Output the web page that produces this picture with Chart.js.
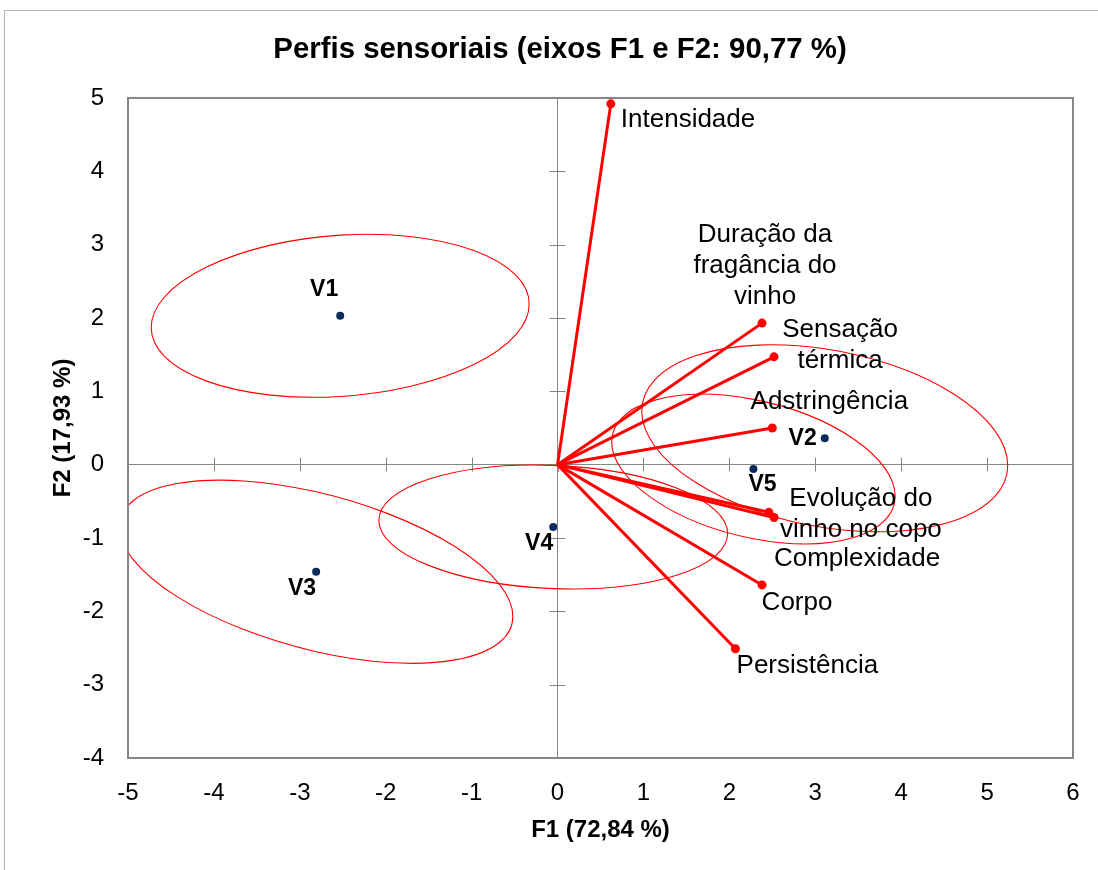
<!DOCTYPE html>
<html>
<head>
<meta charset="utf-8">
<script src="https://cdn.jsdelivr.net/npm/chart.js@4.4.1/dist/chart.umd.min.js"></script>
<style>
  html, body { margin: 0; padding: 0; background: #fff; overflow: hidden; }
  #wrap { position: relative; width: 1120px; height: 870px; }
</style>
</head>
<body>
<div id="wrap"><canvas id="chart"></canvas></div>
<script>
const FONT = "'Liberation Sans', Arial, sans-serif";

// produtos (observações)
const productNames = ["V1", "V2", "V3", "V4", "V5"];
const productF1 = [-2.53, 3.11, -2.81, -0.05, 2.28];
const productF2 = [2.03, 0.36, -1.46, -0.85, -0.06];

// variáveis sensoriais
const variableNames = [
  ["Intensidade"],
  ["Duração da", "fragância do", "vinho"],
  ["Sensação", "térmica"],
  ["Adstringência"],
  ["Evolução do", "vinho no copo"],
  ["Complexidade"],
  ["Corpo"],
  ["Persistência"]
];
const variableF1 = [0.62, 2.38, 2.52, 2.50, 2.46, 2.52, 2.38, 2.07];
const variableF2 = [4.92, 1.93, 1.47, 0.50, -0.65, -0.72, -1.64, -2.51];

// elipses de confiança em torno de cada produto
// (semi-eixo até o ponto mais à direita: dx, dy ; meia altura vertical no centro: h)
const ellipseDx = [2.20, 2.13, 2.29, 2.03, 1.65];
const ellipseDy = [0.16, -0.37, -0.61, -0.09, -0.37];
const ellipseH = [1.10, 1.22, 1.09, 0.84, 0.95];

const xTickValues = [-5, -4, -3, -2, -1, 0, 1, 2, 3, 4, 5, 6];
const yTickValues = [-4, -3, -2, -1, 0, 1, 2, 3, 4, 5];

// posição dos rótulos (deslocamento em px a partir do ponto)
const variableLabelPos = [
  {dx: 10, dy: 16, align: "left"},
  {dx: 3, dy: -88, align: "center"},
  {dx: 66, dy: -27, align: "center"},
  {dx: 57, dy: -26, align: "center"},
  {dx: 92, dy: -13, align: "center"},
  {dx: 83, dy: 41, align: "center"},
  {dx: 35, dy: 18, align: "center"},
  {dx: 72, dy: 17, align: "center"}
];
const productLabelPos = [
  {dx: -2, dy: -26, align: "right"},
  {dx: -8, dy: 0, align: "right"},
  {dx: 0, dy: 17, align: "right"},
  {dx: 0, dy: 17, align: "right"},
  {dx: -5, dy: 16, align: "left"}
];

const extras = {
  id: "extras",
  beforeDraw(chart) {
    const ctx = chart.ctx;
    ctx.save();
    ctx.fillStyle = "#fff";
    ctx.fillRect(0, 0, chart.width, chart.height);
    ctx.strokeStyle = "#b4b4b4";
    ctx.lineWidth = 1;
    ctx.strokeRect(4.5, 10.5, chart.width + 20, chart.height + 20);
    ctx.restore();
  },
  beforeDatasetsDraw(chart) {
    const {ctx, chartArea: a, scales: {x, y}} = chart;
    const x0 = x.getPixelForValue(0), y0 = y.getPixelForValue(0);

    // marcas nos eixos que passam pela origem
    ctx.save();
    ctx.strokeStyle = "#868686";
    ctx.lineWidth = 1;
    ctx.beginPath();
    xTickValues.slice(1, -1).forEach(v => {
      const px = Math.round(x.getPixelForValue(v)) + 0.5;
      ctx.moveTo(px, y0 - 7);
      ctx.lineTo(px, y0 + 7);
    });
    yTickValues.slice(1, -1).forEach(v => {
      const py = Math.round(y.getPixelForValue(v)) + 0.5;
      ctx.moveTo(x0 - 8, py);
      ctx.lineTo(x0 + 8, py);
    });
    ctx.stroke();
    ctx.restore();

    // elipses
    ctx.save();
    ctx.beginPath();
    ctx.rect(a.left, a.top, a.right - a.left, a.bottom - a.top);
    ctx.clip();
    ctx.strokeStyle = "#ff0000";
    ctx.lineWidth = 1.1;
    productF1.forEach((cx, i) => {
      const cy = productF2[i];
      const px = x.getPixelForValue(cx), py = y.getPixelForValue(cy);
      const ux = x.getPixelForValue(cx + ellipseDx[i]) - px;
      const uy = y.getPixelForValue(cy + ellipseDy[i]) - py;
      const vy = y.getPixelForValue(cy + ellipseH[i]) - py;
      ctx.save();
      ctx.transform(ux, uy, 0, vy, px, py);
      ctx.beginPath();
      ctx.arc(0, 0, 1, 0, Math.PI * 2);
      ctx.restore();
      ctx.stroke();
    });
    ctx.restore();
  },
  afterDatasetsDraw(chart) {
    const {ctx, chartArea: a, scales: {x, y}} = chart;

    // moldura
    ctx.save();
    ctx.strokeStyle = "#868686";
    ctx.lineWidth = 2;
    ctx.strokeRect(a.left, a.top, a.right - a.left, a.bottom - a.top);

    // rótulos das variáveis
    ctx.fillStyle = "#000";
    ctx.textBaseline = "middle";
    ctx.font = "26px " + FONT;
    variableNames.forEach((lines, i) => {
      const px = x.getPixelForValue(variableF1[i]);
      const py = y.getPixelForValue(variableF2[i]);
      const p = variableLabelPos[i];
      ctx.textAlign = p.align;
      lines.forEach((t, k) => ctx.fillText(t, px + p.dx, py + p.dy + k * 31));
    });

    // rótulos dos produtos
    ctx.font = "bold 23px " + FONT;
    productNames.forEach((t, i) => {
      const px = x.getPixelForValue(productF1[i]);
      const py = y.getPixelForValue(productF2[i]);
      const p = productLabelPos[i];
      ctx.textAlign = p.align;
      ctx.fillText(t, px + p.dx, py + p.dy);
    });
    ctx.restore();
  }
};

const datasets = [{
  label: "Produtos",
  data: productF1.map((v, i) => ({x: v, y: productF2[i]})),
  showLine: false,
  pointRadius: 4,
  pointBackgroundColor: "#0d2a5e",
  pointBorderWidth: 0
}].concat(variableF1.map((v, i) => ({
  label: variableNames[i].join(" "),
  data: [{x: 0, y: 0}, {x: v, y: variableF2[i]}],
  showLine: true,
  borderColor: "#ff0000",
  borderWidth: 3,
  pointRadius: [0, 4.5],
  pointBackgroundColor: "#ff0000",
  pointBorderWidth: 0
})));

const tickFont = {family: FONT, size: 24};
const zeroGrid = c => (c.tick && c.tick.value === 0) ? "#868686" : "rgba(0,0,0,0)";

const chart = new Chart(document.getElementById("chart"), {
  type: "scatter",
  data: { datasets },
  options: {
    responsive: true,
    maintainAspectRatio: false,
    animation: false,
    layout: { padding: { top: 10, left: 47, right: 47, bottom: 22 } },
    plugins: {
      legend: { display: false },
      tooltip: { enabled: false },
      title: {
        display: true,
        text: "Perfis sensoriais (eixos F1 e F2: 90,77 %)",
        color: "#000",
        font: { family: FONT, size: 29.4, weight: "bold" },
        padding: { top: 22, bottom: 30.7 }
      }
    },
    scales: {
      x: {
        type: "linear",
        min: -5,
        max: 6,
        afterBuildTicks: s => { s.ticks = xTickValues.map(v => ({value: v})); },
        afterFit: s => { s.height = 90; },
        ticks: { font: tickFont, color: "#000", padding: 21, autoSkip: false, maxRotation: 0 },
        grid: { color: zeroGrid, drawTicks: false, lineWidth: 1 },
        border: { display: false },
        title: {
          display: true,
          text: "F1 (72,84 %)",
          color: "#000",
          font: { family: FONT, size: 24, weight: "bold" },
          padding: { top: 0, bottom: 3.6 }
        }
      },
      y: {
        type: "linear",
        min: -4,
        max: 5,
        afterBuildTicks: s => { s.ticks = yTickValues.map(v => ({value: v})); },
        afterFit: s => { s.width = 81; },
        ticks: { font: tickFont, color: "#000", padding: 24, autoSkip: false },
        grid: { color: zeroGrid, drawTicks: false, lineWidth: 1 },
        border: { display: false },
        title: {
          display: true,
          text: "F2 (17,93 %)",
          color: "#000",
          font: { family: FONT, size: 24, weight: "bold" },
          padding: { top: 1.6, bottom: 0 }
        }
      }
    }
  },
  plugins: [extras]
});
</script>
</body>
</html>
